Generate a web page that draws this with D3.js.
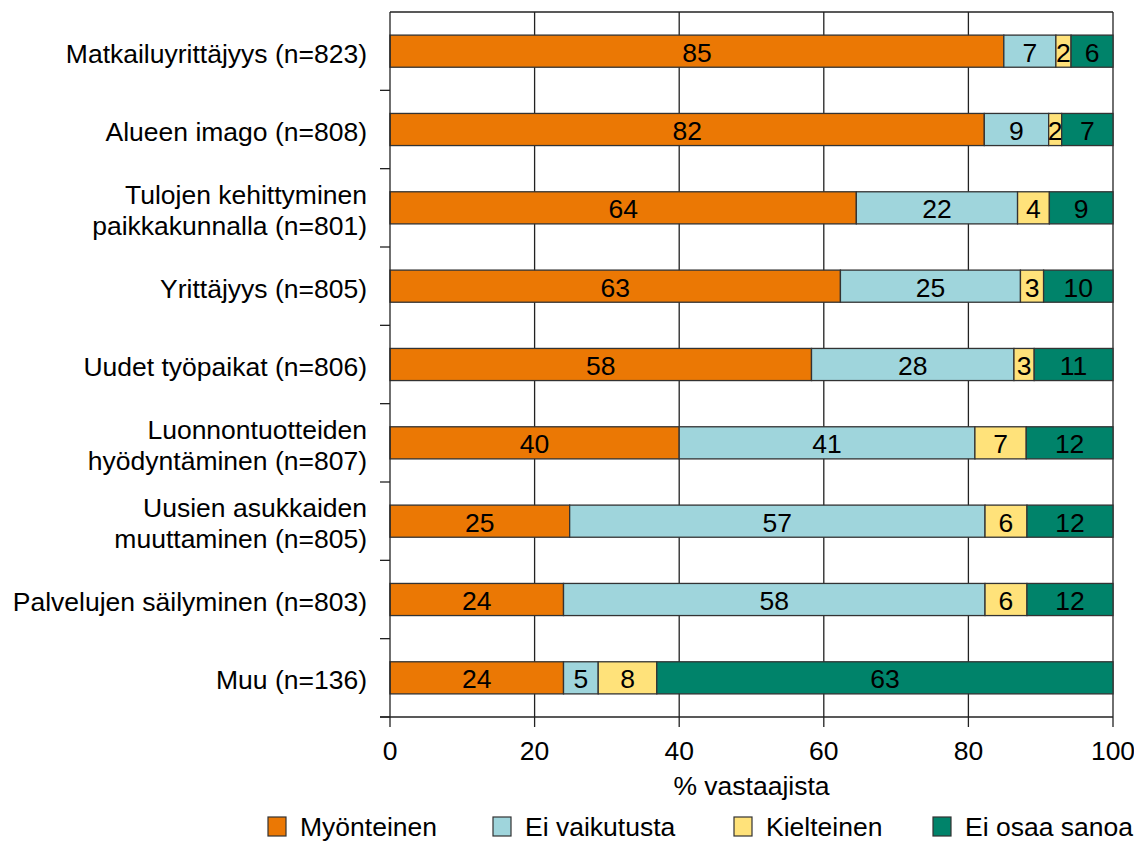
<!DOCTYPE html>
<html>
<head>
<meta charset="utf-8">
<script src="https://cdn.jsdelivr.net/npm/d3@7"></script>
<style>
  body { margin: 0; background: #fff; }
  svg { display: block; font-family: "Liberation Sans", Arial, sans-serif; }
</style>
</head>
<body>
<svg width="1134" height="843"></svg>
<script>
// categories, top to bottom
const categories = [
  "Matkailuyrittäjyys (n=823)",
  "Alueen imago (n=808)",
  "Tulojen kehittyminen\npaikkakunnalla (n=801)",
  "Yrittäjyys (n=805)",
  "Uudet työpaikat (n=806)",
  "Luonnontuotteiden\nhyödyntäminen (n=807)",
  "Uusien asukkaiden\nmuuttaminen (n=805)",
  "Palvelujen säilyminen (n=803)",
  "Muu (n=136)"
];

const seriesNames = ["Myönteinen", "Ei vaikutusta", "Kielteinen", "Ei osaa sanoa"];
const seriesColors = ["#eb7804", "#9fd5dc", "#ffe27a", "#00836a"];

// segment widths (%)
const myonteinen   = [84.9, 82.2, 64.5, 62.3, 58.3, 40.0, 24.85, 24.0, 24.0];
const eiVaikutusta = [7.2, 8.9, 22.3, 24.9, 28.0, 40.9, 57.45, 58.3, 4.8];
const kielteinen   = [2.1, 1.8, 4.4, 3.2, 2.8, 7.1, 5.8, 5.8, 8.1];
const eiOsaaSanoa  = [5.8, 7.1, 8.8, 9.6, 10.9, 12.0, 11.9, 11.9, 63.1];

// printed labels in the segments
const myonteinenLbl   = [85, 82, 64, 63, 58, 40, 25, 24, 24];
const eiVaikutustaLbl = [7, 9, 22, 25, 28, 41, 57, 58, 5];
const kielteinenLbl   = [2, 2, 4, 3, 3, 7, 6, 6, 8];
const eiOsaaSanoaLbl  = [6, 7, 9, 10, 11, 12, 12, 12, 63];

const xTicks = [0, 20, 40, 60, 80, 100];

const svg = d3.select("svg");
const margin = {top: 12, left: 390, right: 21, bottom: 126};
const width = 1134 - margin.left - margin.right,
      height = 843 - margin.top - margin.bottom;
const fs = "26.5px";

const g = svg.append("g").attr("transform", "translate(" + margin.left + "," + margin.top + ")");

const x = d3.scaleLinear().domain([0, 100]).range([0, width]);
const y = d3.scaleBand().domain(categories).range([0, height]).paddingInner(0.59).paddingOuter(0.295);
const yBand = d3.scaleBand().domain(categories).range([0, height]);

// build rows for the stack
const rows = categories.map(function(c, i) {
  return {
    cat: c,
    "Myönteinen": myonteinen[i],
    "Ei vaikutusta": eiVaikutusta[i],
    "Kielteinen": kielteinen[i],
    "Ei osaa sanoa": eiOsaaSanoa[i],
    labels: [myonteinenLbl[i], eiVaikutustaLbl[i], kielteinenLbl[i], eiOsaaSanoaLbl[i]]
  };
});
const stacked = d3.stack().keys(seriesNames)(rows);

// frame top line
g.append("line")
  .attr("x1", 0).attr("x2", width).attr("y1", 0).attr("y2", 0)
  .attr("stroke", "#222").attr("stroke-width", 1.3);

// vertical gridlines
g.selectAll(".grid")
  .data(xTicks.slice(1))
  .enter().append("line")
  .attr("class", "grid")
  .attr("x1", function(d) { return x(d); })
  .attr("x2", function(d) { return x(d); })
  .attr("y1", 0).attr("y2", height)
  .attr("stroke", "#222").attr("stroke-width", 1.3);

// bars
const layer = g.selectAll(".layer")
  .data(stacked)
  .enter().append("g")
  .attr("class", "layer")
  .attr("fill", function(d, i) { return seriesColors[i]; });

layer.selectAll("rect")
  .data(function(d) { return d; })
  .enter().append("rect")
  .attr("x", function(d) { return x(d[0]); })
  .attr("y", function(d) { return y(d.data.cat); })
  .attr("width", function(d) { return x(d[1]) - x(d[0]); })
  .attr("height", y.bandwidth())
  .attr("stroke", "#333")
  .attr("stroke-width", 1.3);

// value labels
layer.each(function(s, si) {
  d3.select(this).selectAll("text")
    .data(s)
    .enter().append("text")
    .attr("x", function(d) { return (x(d[0]) + x(d[1])) / 2; })
    .attr("y", function(d) { return y(d.data.cat) + y.bandwidth() / 2; })
    .attr("dy", "0.4em")
    .attr("text-anchor", "middle")
    .attr("fill", "#000")
    .style("font-size", fs)
    .text(function(d) { return d.data.labels[si]; });
});

// y axis
const yAxis = g.append("g");
yAxis.append("line")
  .attr("x1", 0).attr("x2", 0).attr("y1", 0).attr("y2", height)
  .attr("stroke", "#222").attr("stroke-width", 1.3);
yAxis.selectAll(".ytick")
  .data(categories)
  .enter().append("line")
  .attr("x1", -10).attr("x2", 0)
  .attr("y1", function(d) { return yBand(d) + yBand.bandwidth(); })
  .attr("y2", function(d) { return yBand(d) + yBand.bandwidth(); })
  .attr("stroke", "#222").attr("stroke-width", 1.3);

yAxis.selectAll(".ylabel")
  .data(categories)
  .enter().append("text")
  .attr("text-anchor", "end")
  .style("font-size", fs)
  .attr("fill", "#000")
  .each(function(d) {
    const lines = d.split("\n");
    const cy = y(d) + y.bandwidth() / 2;
    const t = d3.select(this);
    lines.forEach(function(line, i) {
      t.append("tspan")
        .attr("x", -23)
        .attr("y", cy + 2 + (i - (lines.length - 1) / 2) * 31)
        .attr("dy", "0.36em")
        .text(line);
    });
  });

// x axis
const xAxis = g.append("g").attr("transform", "translate(0," + height + ")");
xAxis.append("line")
  .attr("x1", -10).attr("x2", width).attr("y1", 0).attr("y2", 0)
  .attr("stroke", "#222").attr("stroke-width", 1.3);
xAxis.selectAll(".xtick")
  .data(xTicks)
  .enter().append("line")
  .attr("x1", function(d) { return x(d); })
  .attr("x2", function(d) { return x(d); })
  .attr("y1", 0).attr("y2", 10)
  .attr("stroke", "#222").attr("stroke-width", 1.3);
xAxis.selectAll(".xlabel")
  .data(xTicks)
  .enter().append("text")
  .attr("x", function(d) { return x(d); })
  .attr("y", 43)
  .attr("text-anchor", "middle")
  .style("font-size", fs)
  .text(function(d) { return d; });

g.append("text")
  .attr("x", width / 2)
  .attr("y", height + 78)
  .attr("text-anchor", "middle")
  .style("font-size", fs)
  .text("% vastaajista");

// legend
const legendX = [268, 493, 734, 933];
const legend = svg.selectAll(".legend")
  .data(seriesNames)
  .enter().append("g")
  .attr("class", "legend")
  .attr("transform", function(d, i) { return "translate(" + legendX[i] + ",817)"; });
legend.append("rect")
  .attr("width", 18).attr("height", 19)
  .attr("fill", function(d, i) { return seriesColors[i]; })
  .attr("stroke", "#333").attr("stroke-width", 1.2);
legend.append("text")
  .attr("x", 32)
  .attr("y", 19)
  .style("font-size", fs)
  .text(function(d) { return d; });
</script>
</body>
</html>
